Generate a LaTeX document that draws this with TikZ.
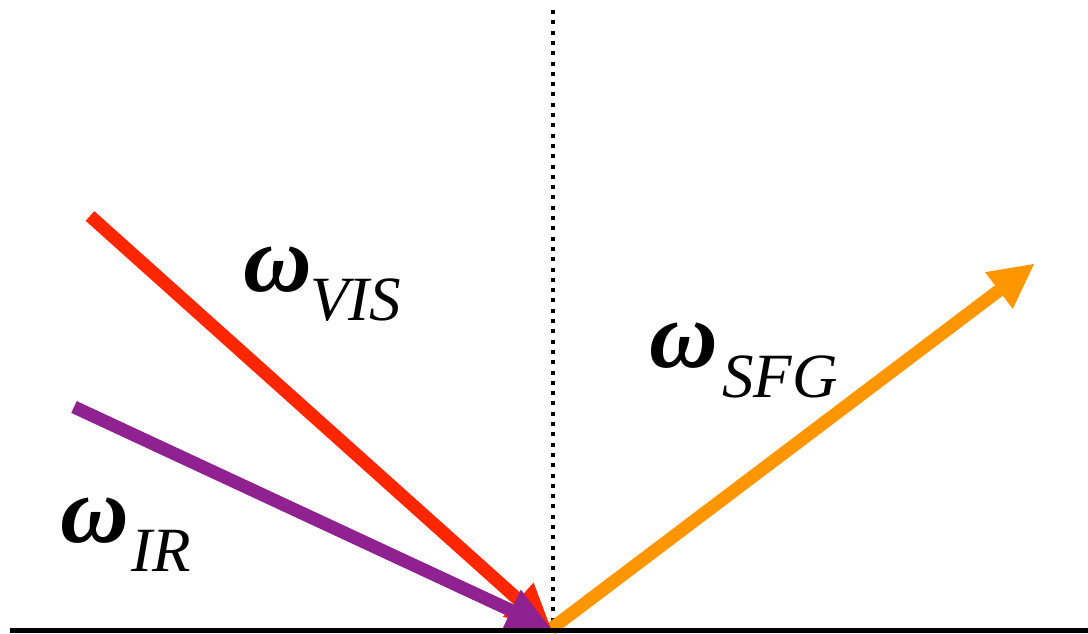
\documentclass[tikz,border=0pt]{standalone}
\usepackage{fontspec}
\setmainfont{Liberation Serif}
\usetikzlibrary{arrows.meta}
\definecolor{visred}{HTML}{FF2600}
\definecolor{irpurple}{HTML}{8F2290}
\definecolor{sfgorange}{HTML}{FF9600}
\tikzset{
  beam/.style={line width=13pt, -{Triangle[length=44pt,width=46pt,line width=0pt]}},
  omeganode/.style={anchor=base west, inner sep=0pt, font=\fontsize{95}{95}\selectfont\bfseries\itshape},
  subnode/.style={anchor=base west, inner sep=0pt, font=\fontsize{63}{63}\selectfont\itshape},
}
\begin{document}
\begin{tikzpicture}[x=1pt,y=-1pt]
\useasboundingbox (0,0) rectangle (1088,633);
% points
\coordinate (hit) at (551,629);
\coordinate (top) at (553,10);
\coordinate (bot) at (553,622);
\coordinate (visstart) at (90,216);
\coordinate (irstart) at (74,407);
\coordinate (sfgend) at (1034,264);
\coordinate (floorL) at (10,630.5);
\coordinate (floorR) at (1088,630.5);
% normal
\draw[line width=4pt, dash pattern=on 4pt off 6.3pt] (top) -- (bot);
% beams
\draw[beam, sfgorange] (hit) -- (sfgend);
\draw[beam, visred] (visstart) -- (hit);
\draw[beam, irpurple] (irstart) -- (hit);
% surface
\draw[line width=5pt] (floorL) -- (floorR);
% labels
\node[omeganode] (wvis) at (243,291) {ω};
\node[subnode] (svis) at (310,320) {VIS};
\node[omeganode] (wsfg) at (649,367) {ω};
\node[subnode] (ssfg) at (722,397) {SFG};
\node[omeganode] (wir) at (60,542) {ω};
\node[subnode] (sir) at (131,571) {IR};
\end{tikzpicture}
\end{document}
